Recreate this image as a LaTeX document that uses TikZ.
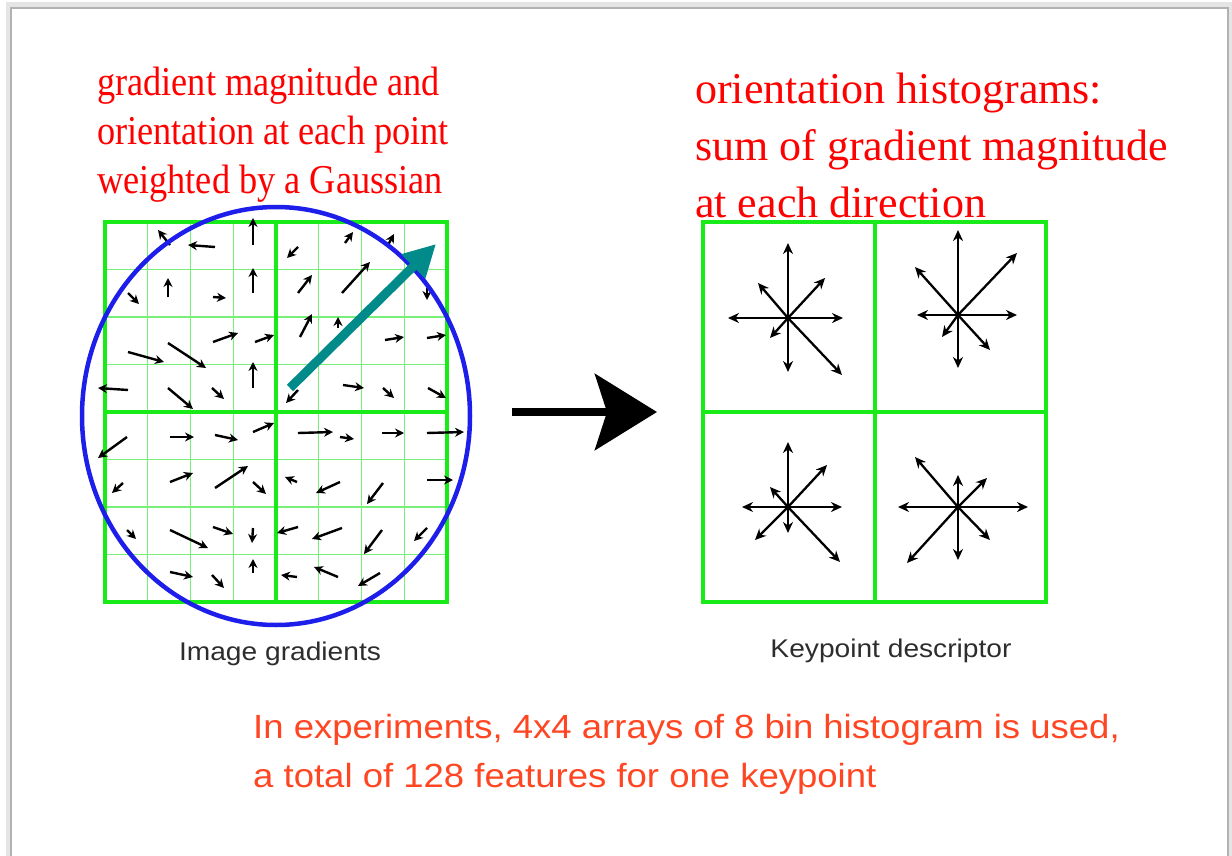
\documentclass[tikz,border=0pt]{standalone}
\usepackage{fontspec}
\setmainfont{Liberation Serif}
\newfontfamily\leftserif[FakeStretch=0.885]{Liberation Serif}
\newfontfamily\labelsans[FakeStretch=1.1]{Liberation Sans}
\newfontfamily\notesans[FakeStretch=1.09]{Liberation Sans}
\usetikzlibrary{positioning, arrows.meta, calc}
\definecolor{gridgreen}{RGB}{25,235,25}
\definecolor{cellgreen}{RGB}{120,240,120}
\definecolor{circblue}{RGB}{30,30,235}
\definecolor{tealarrow}{RGB}{0,138,138}
\definecolor{notered}{RGB}{255,70,35}
\definecolor{labelgray}{RGB}{45,45,45}

\begin{document}
\begin{tikzpicture}[
    x=1pt, y=-1pt,
    frameline/.style={draw=gridgreen, line width=4.5pt},
    cellline/.style={draw=cellgreen, line width=1.3pt},
    grad/.style={-{Stealth[length=9pt, width=9pt]}, line width=2.4pt},
    bin/.style={-{Stealth[length=11pt, width=10pt]}, line width=2.3pt},
    redtext/.style={text=red, align=left, inner sep=0pt, anchor=north west},
    caption/.style={text=labelgray, inner sep=0pt, anchor=base}
]
    \useasboundingbox (0,0) rectangle (1232,856);

    % slide border
    \draw[gray!20, line width=5pt] (8,860) -- (8,5) -- (1231,5) -- (1231,860);
    \draw[gray!60, line width=1.2pt] (11,860) -- (11,8) -- (1228,8) -- (1228,860);

    % texts
    \node[redtext, font={\leftserif\fontsize{41}{49}\selectfont}] (gradtext) at (97,67)
        {gradient magnitude and\\orientation at each point\\weighted by a Gaussian};
    \node[redtext, font={\fontsize{44}{57}\selectfont}] (histtext) at (695,73)
        {orientation histograms:\\sum of gradient magnitude\\at each direction};

    % image gradients: 8x8 cells
    \foreach \i in {1,...,7} {
        \draw[cellline] (105+42.75*\i,222) -- (105+42.75*\i,602);
        \draw[cellline] (105,222+47.5*\i) -- (447,222+47.5*\i);
    }
    \draw[frameline] (105,222) rectangle (447,602);
    \draw[frameline] (276,222) -- (276,602);
    \draw[frameline] (105,412) -- (447,412);

    \foreach \xa/\ya/\xb/\yb in {
        170/245/158/230, 215/247/188/245, 253/245/253/218, 298/247/287/258,
        345/243/353/232, 388/245/394/234,
        128/293/139/304, 168/297/168/278, 213/297/226/298, 253/293/253/268,
        298/293/312/275, 342/293/370/262, 427/288/427/300,
        128/352/164/362, 168/343/206/368, 213/342/238/333, 255/342/274/335,
        300/337/312/314, 338/328/338/317, 385/340/404/337, 427/338/446/335,
        128/390/98/388, 168/388/193/409, 212/388/224/399, 253/388/253/362,
        298/390/286/403, 343/385/364/388, 383/388/394/398, 428/388/446/398,
        127/437/98/458, 170/437/194/437, 215/435/238/440, 253/432/274/423,
        298/433/333/432, 340/437/354/439, 382/433/404/433, 427/433/464/432,
        123/483/112/493, 170/482/193/473, 215/488/248/466, 253/482/266/494,
        297/482/285/477, 340/482/316/493, 383/483/367/504, 427/480/453/480,
        127/530/136/539, 170/530/208/548, 213/527/233/534, 253/528/252/543,
        298/527/277/533, 342/528/312/539, 382/530/364/554, 427/528/414/541,
        170/572/193/577, 212/575/224/588, 253/573/253/559, 297/577/281/575,
        338/577/314/567, 380/573/358/586}
        \draw[grad] (\xa,\ya) -- (\xb,\yb);

    % Gaussian window
    \draw[circblue, line width=4.5pt] (276,416) ellipse [x radius=194, y radius=209];

    % dominant orientation
    \coordinate (tealtail) at (290,388);
    \coordinate (tealtip) at (436,244);
    \draw[tealarrow, line width=9pt, -{Triangle[length=32pt, width=32pt]}] (tealtail) -- (tealtip);

    % big arrow
    \coordinate (bigtail) at (512,412);
    \coordinate (bighead) at (657,412);
    \draw[line width=8pt, -{Stealth[length=62pt, width=76pt, inset=12pt]}] (bigtail) -- (bighead);

    % keypoint descriptor: 2x2 cells
    \draw[frameline] (703,222) rectangle (1046,602);
    \draw[frameline] (875,222) -- (875,602);
    \draw[frameline] (703,412) -- (1046,412);

    \coordinate (h1) at (788,318);
    \coordinate (h2) at (958,315);
    \coordinate (h3) at (788,507);
    \coordinate (h4) at (958,507);
    \foreach \dx/\dy in {0/-75, 0/54, -60/0, 55/0, 37/-40, -30/-35, -18/20, 54/57}
        \draw[bin] (h1) -- ++(\dx,\dy);
    \foreach \dx/\dy in {0/-85, 0/53, -41/0, 59/0, 59/-62, -43/-48, -16/22, 32/35}
        \draw[bin] (h2) -- ++(\dx,\dy);
    \foreach \dx/\dy in {0/-65, 0/26, -46/0, 54/0, 39/-42, -18/-20, -33/33, 52/55}
        \draw[bin] (h3) -- ++(\dx,\dy);
    \foreach \dx/\dy in {0/-32, 0/53, -60/0, 70/0, 29/-29, -43/-50, -51/56, 32/33}
        \draw[bin] (h4) -- ++(\dx,\dy);

    % captions
    \node[caption, font={\labelsans\fontsize{25.6}{30}\selectfont}] (gradlabel) at (280,660) {Image gradients};
    \node[caption, font={\labelsans\fontsize{25.6}{30}\selectfont}] (desclabel) at (891,657) {Keypoint descriptor};

    \node[redtext, text=notered, font={\notesans\fontsize{33.5}{49}\selectfont}] (note) at (253,714)
        {In experiments, 4x4 arrays of 8 bin histogram is used,\\a total of 128 features for one keypoint};
\end{tikzpicture}
\end{document}
